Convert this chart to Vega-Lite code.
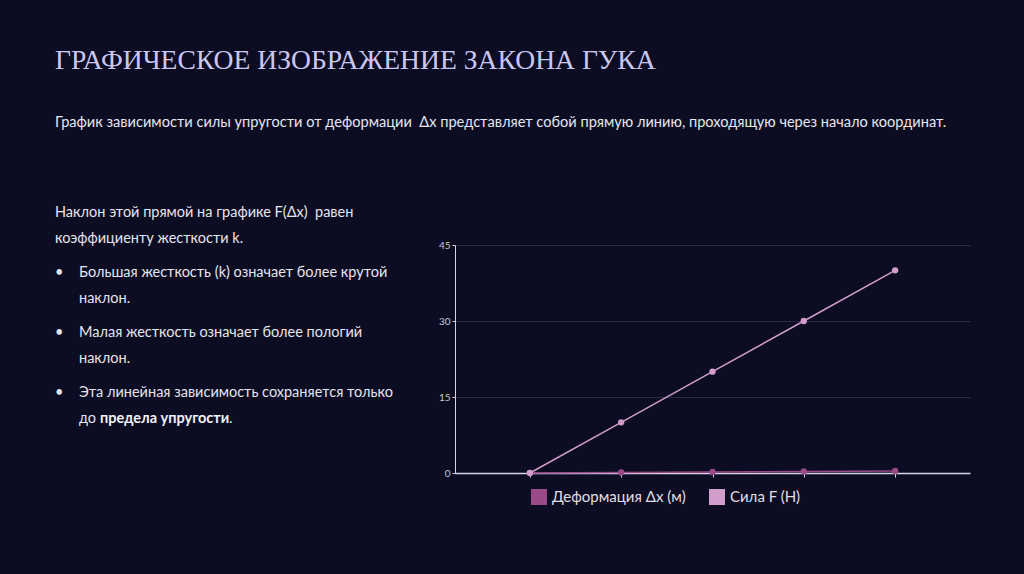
{
  "$schema": "https://vega.github.io/schema/vega-lite/v6.json",
  "background": "#0c0d22",
  "padding": {"left": 55, "top": 46, "right": 54, "bottom": 70},
  "bounds": "flush",
  "center": true,
  "spacing": 20,
  "config": {"view": {"stroke": null}, "font": "Lato"},
  "title": {
    "text": "ГРАФИЧЕСКОЕ ИЗОБРАЖЕНИЕ ЗАКОНА ГУКА",
    "subtitle": "График зависимости силы упругости от деформации \u00a0Δx представляет собой прямую линию, проходящую через начало координат.",
    "anchor": "start",
    "frame": "bounds",
    "font": "Liberation Serif",
    "fontSize": 27.6,
    "fontWeight": "normal",
    "color": "#c9c6ef",
    "subtitleFont": "Lato",
    "subtitleFontSize": 14.6,
    "subtitleColor": "#e6e6ee",
    "subtitlePadding": 41,
    "offset": 75
  },
  "datasets": {
    "hooke": [
      {"n": 1, "series": "Деформация Δx (м)", "value": 0},
      {"n": 2, "series": "Деформация Δx (м)", "value": 0.1},
      {"n": 3, "series": "Деформация Δx (м)", "value": 0.2},
      {"n": 4, "series": "Деформация Δx (м)", "value": 0.3},
      {"n": 5, "series": "Деформация Δx (м)", "value": 0.4},
      {"n": 1, "series": "Сила F (Н)", "value": 0},
      {"n": 2, "series": "Сила F (Н)", "value": 10},
      {"n": 3, "series": "Сила F (Н)", "value": 20},
      {"n": 4, "series": "Сила F (Н)", "value": 30},
      {"n": 5, "series": "Сила F (Н)", "value": 40}
    ],
    "notes": [
      {"item": 1, "line": 0, "role": "para", "text": "Наклон этой прямой на графике F(Δx)\u00a0 равен"},
      {"item": 1, "line": 1, "role": "para", "text": "коэффициенту жесткости k."},
      {"item": 2, "line": 0, "role": "bullet", "text": "•"},
      {"item": 2, "line": 0, "role": "item", "text": "Большая жесткость (k) означает более крутой"},
      {"item": 2, "line": 1, "role": "item", "text": "наклон."},
      {"item": 3, "line": 0, "role": "bullet", "text": "•"},
      {"item": 3, "line": 0, "role": "item", "text": "Малая жесткость означает более пологий"},
      {"item": 3, "line": 1, "role": "item", "text": "наклон."},
      {"item": 4, "line": 0, "role": "bullet", "text": "•"},
      {"item": 4, "line": 0, "role": "item", "text": "Эта линейная зависимость сохраняется только"},
      {"item": 4, "line": 1, "role": "item", "text": "до"},
      {"item": 4, "line": 1, "role": "emph", "text": "предела упругости"},
      {"item": 4, "line": 1, "role": "tail", "text": "."}
    ]
  },
  "hconcat": [
    {
      "width": 380,
      "height": 292,
      "data": {"name": "notes"},
      "encoding": {
        "x": {"value": 0},
        "y": {"field": "item", "type": "ordinal", "scale": {"type": "band", "paddingInner": 0.567, "paddingOuter": 0.7126, "align": 0}, "axis": null},
        "yOffset": {"field": "line", "type": "ordinal", "scale": {"type": "point", "padding": 0}},
        "text": {"field": "text"}
      },
      "layer": [
        {"transform": [{"filter": "datum.role === 'para'"}], "mark": {"type": "text", "align": "left", "baseline": "middle", "fontSize": 14.5, "font": "Lato", "color": "#e4e4ee", "dx": 0}},
        {"transform": [{"filter": "datum.role === 'bullet'"}], "mark": {"type": "text", "align": "left", "baseline": "middle", "fontSize": 14.5, "font": "Lato", "color": "#e4e4ee", "dx": 0}},
        {"transform": [{"filter": "datum.role === 'item'"}], "mark": {"type": "text", "align": "left", "baseline": "middle", "fontSize": 14.5, "font": "Lato", "color": "#e4e4ee", "dx": 24}},
        {"transform": [{"filter": "datum.role === 'emph'"}], "mark": {"type": "text", "align": "left", "baseline": "middle", "fontSize": 14.5, "font": "Lato", "fontWeight": "bold", "color": "#f2f2f8", "dx": 45}},
        {"transform": [{"filter": "datum.role === 'tail'"}], "mark": {"type": "text", "align": "left", "baseline": "middle", "fontSize": 14.5, "font": "Lato", "color": "#e4e4ee", "dx": 174}}
      ]
    },
    {
      "width": 515,
      "height": 228,
      "data": {"name": "hooke"},
      "encoding": {
        "x": {"field": "n", "type": "ordinal", "scale": {"type": "point", "padding": 0.82},
              "axis": {"labels": false, "title": null, "ticks": true, "tickSize": 4, "tickColor": "#d8d2e6", "domainColor": "#d8d2e6", "domainWidth": 1.5, "grid": false}},
        "y": {"field": "value", "type": "quantitative", "scale": {"domain": [0, 45]},
              "axis": {"values": [0, 15, 30, 45], "title": null, "grid": true, "gridColor": "#2a2a44", "domainColor": "#d8d2e6", "tickColor": "#d8d2e6", "tickSize": 3, "labelColor": "#c8c6d6", "labelFontSize": 10, "labelPadding": 2, "labelFont": "Lato"}},
        "color": {"field": "series", "type": "nominal",
                  "scale": {"domain": ["Деформация Δx (м)", "Сила F (Н)"], "range": ["#9a4a88", "#d29ccb"]},
                  "legend": {"orient": "none", "legendX": 476, "legendY": 276, "direction": "horizontal", "title": null, "symbolType": "square", "symbolSize": 256, "symbolStrokeWidth": 0, "symbolOpacity": 1, "labelFontSize": 15, "labelColor": "#e0dfe8", "labelFont": "Lato", "columnPadding": 23, "labelOffset": 5}}
      },
      "layer": [
        {"mark": {"type": "line", "strokeWidth": 1.5}},
        {"mark": {"type": "point", "filled": true, "size": 40, "opacity": 1}}
      ]
    }
  ]
}
